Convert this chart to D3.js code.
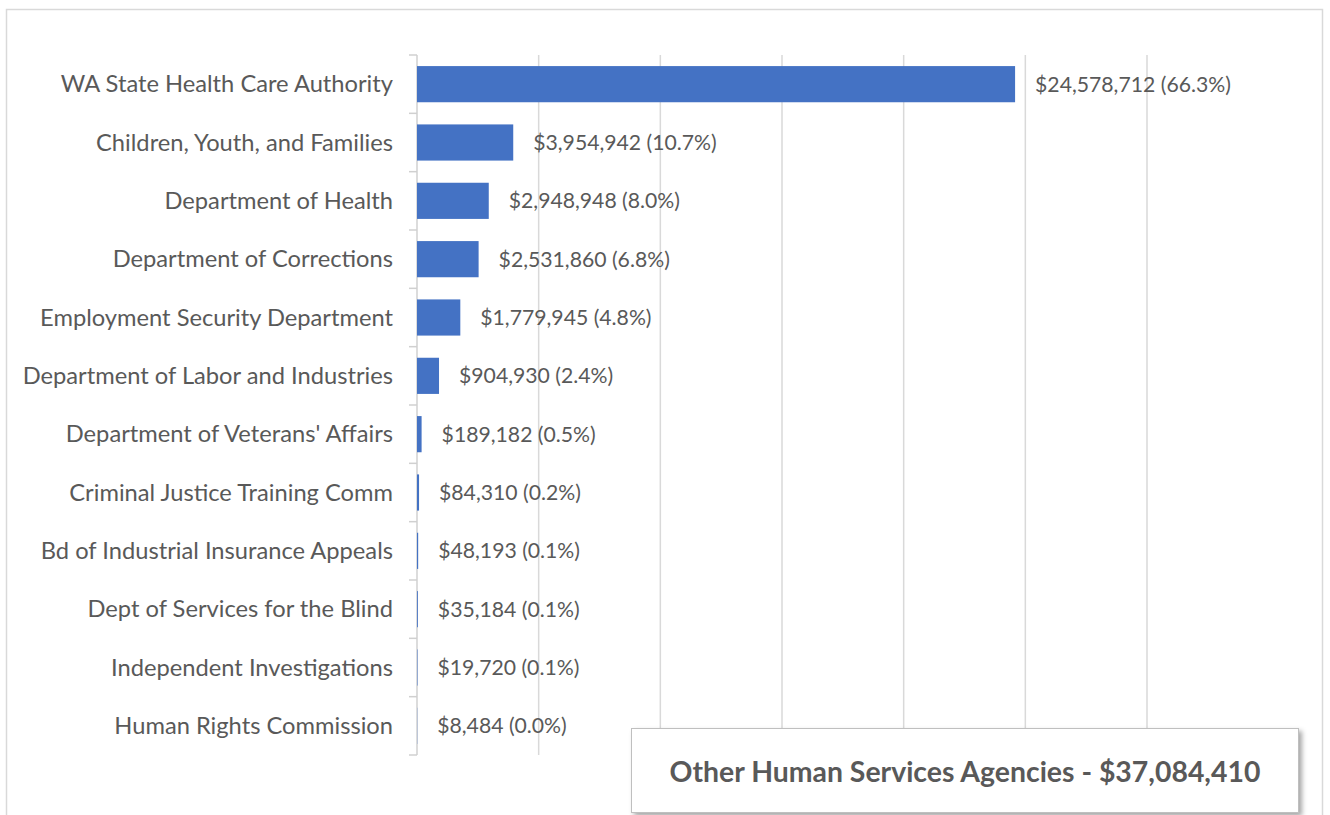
<!DOCTYPE html>
<html>
<head>
<meta charset="utf-8">
<script src="https://cdn.jsdelivr.net/npm/d3@7"></script>
<style>
  body { margin: 0; background: #fff; }
  svg { display: block; font-family: Lato, "Open Sans", sans-serif; }
</style>
</head>
<body>
<svg width="1330" height="815"></svg>
<script>
// agencies, top to bottom
const agencies = [
  'WA State Health Care Authority',
  'Children, Youth, and Families',
  'Department of Health',
  'Department of Corrections',
  'Employment Security Department',
  'Department of Labor and Industries',
  "Department of Veterans' Affairs",
  'Criminal Justice Training Comm',
  'Bd of Industrial Insurance Appeals',
  'Dept of Services for the Blind',
  'Independent Investigations',
  'Human Rights Commission'
];
const amounts = [24578712, 3954942, 2948948, 2531860, 1779945, 904930,
  189182, 84310, 48193, 35184, 19720, 8484];
const xTicks = [0, 5000000, 10000000, 15000000, 20000000, 25000000, 30000000];
const boxTitle = 'Other Human Services Agencies - $37,084,410';

const total = d3.sum(amounts);
const data = agencies.map((name, i) => ({ name, value: amounts[i] }));

const svg = d3.select('svg');
const grey = '#595959';

// chart area border
svg.append('rect')
  .attr('x', 6.5).attr('y', 9.5)
  .attr('width', 1316).attr('height', 830)
  .attr('fill', 'none').attr('stroke', '#d9d9d9').attr('stroke-width', 1.5);

const x = d3.scaleLinear().domain([0, 30000000]).range([417, 1147]);
const y = d3.scaleBand().domain(agencies).range([55, 755]);

// vertical gridlines
svg.append('g').selectAll('line')
  .data(xTicks.slice(1))
  .enter().append('line')
  .attr('x1', d => x(d)).attr('x2', d => x(d))
  .attr('y1', 55).attr('y2', 755)
  .attr('stroke', '#d9d9d9').attr('stroke-width', 1.5);

// category axis line + ticks between bands
const ax = svg.append('g');
ax.append('line')
  .attr('x1', x(0)).attr('x2', x(0)).attr('y1', 55).attr('y2', 755)
  .attr('stroke', '#d0d0d0').attr('stroke-width', 1.5);
ax.selectAll('.tk')
  .data(agencies.map(a => y(a)).concat([755]))
  .enter().append('line')
  .attr('x1', x(0) - 8).attr('x2', x(0))
  .attr('y1', d => d).attr('y2', d => d)
  .attr('stroke', '#d0d0d0').attr('stroke-width', 1.5);

// labels
svg.append('g').selectAll('text')
  .data(data)
  .enter().append('text')
  .attr('x', 393)
  .attr('y', d => y(d.name) + y.bandwidth() / 2)
  .attr('dy', '0.35em')
  .attr('text-anchor', 'end')
  .attr('fill', grey)
  .attr('font-size', 23.7)
  .text(d => d.name);

// bars
const barH = y.bandwidth() * 0.62;
svg.append('g').selectAll('rect')
  .data(data)
  .enter().append('rect')
  .attr('x', x(0))
  .attr('y', d => y(d.name) + (y.bandwidth() - barH) / 2)
  .attr('width', d => x(d.value) - x(0))
  .attr('height', barH)
  .attr('fill', '#4472c4');

// data labels
const fmt = d3.format(',');
svg.append('g').selectAll('text')
  .data(data)
  .enter().append('text')
  .attr('x', d => x(d.value) + 20)
  .attr('y', d => y(d.name) + y.bandwidth() / 2)
  .attr('dy', '0.35em')
  .attr('fill', grey)
  .attr('font-size', 21.2)
  .text(d => '$' + fmt(d.value) + ' (' + (d.value / total * 100).toFixed(1) + '%)');

// title box with shadow
const defs = svg.append('defs');
const f = defs.append('filter').attr('id', 'sh')
  .attr('x', '-5%').attr('y', '-20%').attr('width', '115%').attr('height', '150%');
f.append('feDropShadow')
  .attr('dx', 3).attr('dy', 3).attr('stdDeviation', 2.5)
  .attr('flood-color', '#000').attr('flood-opacity', 0.35);

svg.append('rect')
  .attr('x', 631.5).attr('y', 728.5)
  .attr('width', 667).attr('height', 84)
  .attr('fill', '#fff').attr('stroke', '#bfbfbf').attr('stroke-width', 1)
  .attr('filter', 'url(#sh)');
svg.append('text')
  .attr('x', 965).attr('y', 772)
  .attr('dy', '0.35em')
  .attr('text-anchor', 'middle')
  .attr('fill', grey)
  .attr('font-size', 28.4)
  .attr('font-weight', 'bold')
  .text(boxTitle);
</script>
</body>
</html>
